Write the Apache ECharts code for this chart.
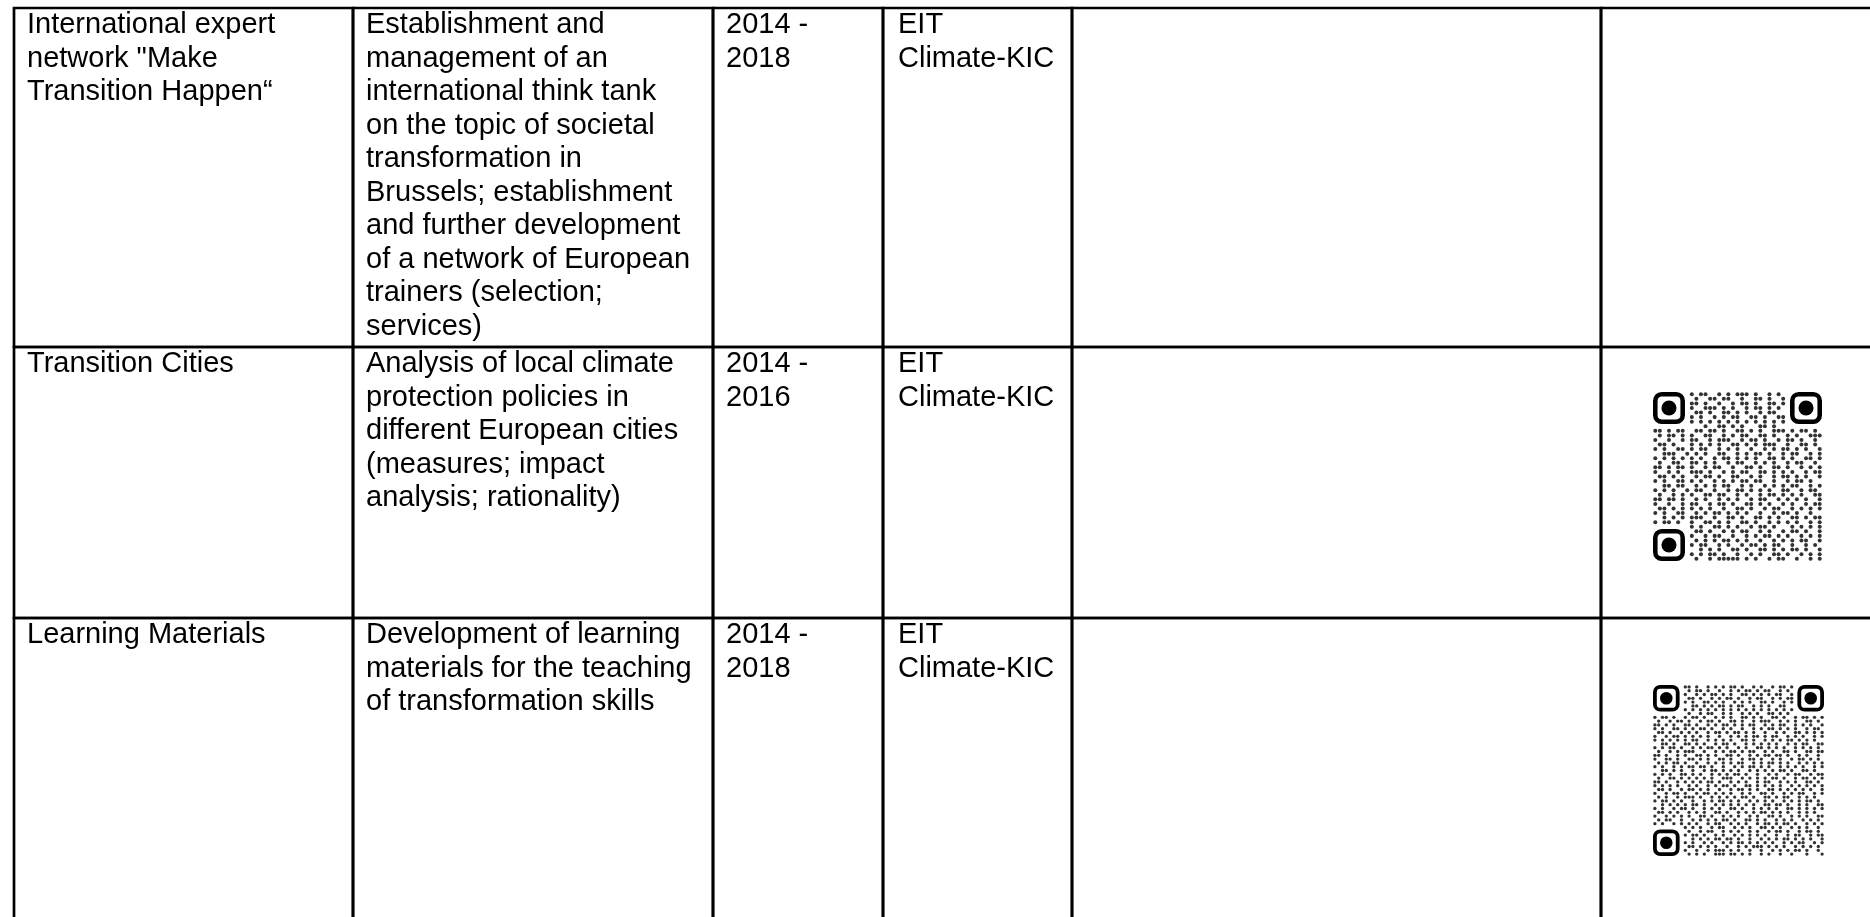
<!DOCTYPE html>
<html>
<head>
<meta charset="utf-8">
<script src="https://cdn.jsdelivr.net/npm/echarts@6/dist/echarts.min.js"></script>
<style>
html, body { margin: 0; padding: 0; background: #fff; }
#table { width: 1870px; height: 917px; }
</style>
</head>
<body>
<div id="table"></div>
<script>
// table content, one entry per row (line breaks as in the original)
const projects = [
  'International expert\nnetwork "Make\nTransition Happen\u201C',
  'Transition Cities',
  'Learning Materials'
];
const descriptions = [
  'Establishment and\nmanagement of an\ninternational think tank\non the topic of societal\ntransformation in\nBrussels; establishment\nand further development\nof a network of European\ntrainers (selection;\nservices)',
  'Analysis of local climate\nprotection policies in\ndifferent European cities\n(measures; impact\nanalysis; rationality)',
  'Development of learning\nmaterials for the teaching\nof transformation skills'
];
const periods = ['2014 -\n2018', '2014 -\n2016', '2014 -\n2018'];
const funders = ['EIT\nClimate-KIC', 'EIT\nClimate-KIC', 'EIT\nClimate-KIC'];
const notes = ['', '', ''];
const links = ['', '', ''];

// QR modules ('#' = dot), finder corners are drawn separately
const qrTransitionCities = [
  '........' + '#.##..#.#.###.#..#.#.' + '........',
  '........' + '.#..##.##..#..##.#..#' + '........',
  '........' + '##.#..#..#.##.#..##.#' + '........',
  '........' + '#..###.#.#..#.##.#.#.' + '........',
  '........' + '.##.#..##.#.#..#.##..' + '........',
  '........' + '#.#..#.#.##..##.#..##' + '........',
  '........' + '#.#.#.#.#.#.#.#.#.#.#' + '........',
  '........' + '...#..##.#.#...##.#..' + '........',
  '##.#.##..#' + '#.##.#..##' + '.#.#..###.' + '#.##.#.',
  '.#.##.#.#.' + '.##..#.#.#' + '#..##.#..#' + '.#..###',
  '#..#..#.##' + '..#.###..#' + '.##.#..#.#' + '#.#..#.',
  '.##.#...#.' + '#.#.#..##.' + '#.#.###..#' + '..##.#.',
  '#.#..##.#.' + '##..#.#.#.' + '.#..#.#.##' + '.#.#..#',
  '..###..#.#' + '.#..##..#.' + '#.##.#..#.' + '##..#.#',
  '#.#.#.#.#.' + '#..#.##.#.' + '#.#..##.#.' + '#..##.#',
  '.#..##..##' + '.#.#..#.##' + '..#.#.#..#' + '.##..#.',
  '##.#.##.#.' + '.#.##..#..' + '##.#..##.#' + '..#.#.#',
  '#..#.#..##' + '#.#..#.#.#' + '#..##.#.#.' + '#..#.##',
  '.##.#.#..#' + '.##.#..##.' + '.#.#..#.##' + '.#.#..#',
  '#.#..##.#.' + '#..#.#.#.#' + '#.##..#..#' + '.##.#..',
  '..##.##..#' + '.#.#.##..#' + '.#..#.#.#.' + '##..#.#',
  '#.#.#..#.#' + '#..#..#.##' + '.#.#.#..##' + '..#.##.',
  '.#..#.#.#.' + '.##.##..#.' + '#..#.##.#.' + '#.#..##',
  '##.##.#..#' + '.#..#.#.#.' + '.#.##..#.#' + '.#.#..#',
  '#..#..#.##' + '..#.##.#..' + '##.#.#..#.' + '#..#.##',
  '.##.#.#.#.' + '#.#..#..##' + '.#..#.##..' + '#.#.#.#',
  '#.#..##..#' + '.#.##.#.#.' + '#..#..#.##' + '.#..#..',
  '..#.#.#.##' + '#..#..##.#' + '..##.#.#..' + '##.#.##',
  '#.##.#..#.' + '.##.#.#..#' + '#.#..#.#.#' + '.#..#.#',
  '........' + '#.#..##.#.' + '#..#.##.#.' + '..#.#.#.#',
  '........' + '.##.#..#.#' + '.##..#.#..' + '#.##.#..#',
  '........' + '#..#.##..#' + '..#.#.##.#' + '.#..#.#.#',
  '........' + '.#.#.#.##.' + '#.#..#..#.' + '#.#.##..#',
  '........' + '#.##..#.#.' + '.#.##.#.##' + '..#..#.#.',
  '........' + '..#.#.#..#' + '#.#..##.#.' + '#.##.#..#',
  '........' + '#.#.##.#..' + '#..#.#..##' + '.#..#.#.#',
  '........' + '.#..#.####' + '#.#.#..#.#' + '#..#..#.#'
];
const qrLearningMaterials = [
  '........' + '##.#..#.#.' + '#.##.#..#.' + '#..#.##.#' + '........',
  '........' + '.#.##.#..#' + '..#.#.##.#' + '.##..#.#.' + '........',
  '........' + '#..#.#.##.' + '#.#..##.#.' + '#.#.##..#' + '........',
  '........' + '.##.#..#.#' + '.##.#..#.#' + '#..#.#.##' + '........',
  '........' + '#.#..##.#.' + '#..#.#.#..' + '##.#..#.#' + '........',
  '........' + '..##.#.#.#' + '#.#.##..#.' + '#.#..##..' + '........',
  '........' + '#.#.#.#.#.' + '#.#.#.#.#.' + '#.#.#.#.#' + '........',
  '........' + '.#..#.##..' + '#.#..#.#.#' + '..##.#.#.' + '........',
  '#.##.#..#.' + '##.#..#.#.' + '#..##.#.#.' + '.##.#..#.#' + '#.#.#',
  '.#..#.##.#' + '..#.##.#..' + '##.#..#.##' + '#..#.#.#..' + '##.#.',
  '##.#.#..##' + '.#..#.#.##' + '.#.#.##..#' + '.#.##..#.#' + '.#..#',
  '#.#..##.#.' + '#.##.#..#.' + '#..#..#.#.' + '##.#.#.#..' + '#.##.',
  '.##.#..#.#' + '.#..#.##.#' + '.##.#.#..#' + '..#.#..##.' + '#.#.#',
  '#..#.##.#.' + '#.#.#..#..' + '#.#.#.##.#' + '.##..#.#.#' + '..#.#',
  '#.#.#.#.#.' + '##..#.#.#.' + '#..##.#..#' + '.#.#.##.#.' + '#.#..',
  '..##.#..##' + '.#.#..#.##' + '.#..#.#.#.' + '#.#..#.#.#' + '#..##',
  '#.#.##.#..' + '#.#.##.#.#' + '..#.#..##.' + '#.#.#..#.#' + '.#.#.',
  '.#..#.#.##' + '#..#..#.#.' + '##.#.##..#' + '.#..##.#..' + '##.##',
  '##.#..#.#.' + '.##.#.#..#' + '#.#..#.#.#' + '#.##.#..#.' + '#..#.',
  '#..##.#..#' + '#.#.#..##.' + '#..#.##.#.' + '.#.#..#.##' + '.#.#.',
  '.#.#.##.#.' + '.#..#.#.#.' + '#.##..#.#.' + '##.#.#..#.' + '#.#.#',
  '#.#..#.#.#' + '#.##.#..#.' + '.#.#.##.#.' + '#..#.#.#.#' + '..#.#',
  '..##.#.#..' + '#..#.##.#.' + '#.#..#.#.#' + '.#.##.#..#' + '#.#..',
  '#.#.#..##.' + '#.#..#.#.#' + '.##.#..#..' + '#.#..#.##.' + '.#.##',
  '.#..##.#.#' + '.#.#.#..##' + '#..#.#.#.#' + '.##.#..#.#' + '#.#.#',
  '##.#..#.#.' + '#.#.##.#..' + '#.#.#..#.#' + '#..#.#.#..' + '##.#.',
  '#.#.#.#..#' + '.#..#.#.##' + '.#..##.#.#' + '.#.#..#.#.' + '#.#.#',
  '.##.#..#.#' + '#.#.#..#..' + '#.##.#.#..' + '##.#.#.#.#' + '.#..#',
  '#..#.##.#.' + '.#.##.#.#.' + '#..#.#..##' + '.#..#.#.##' + '..#.#',
  '.#.#..#.##' + '#.#..#.#.#' + '.#.##.#..#' + '#.#.##..#.' + '#.#..',
  '#.##.#.#..' + '#..#.#.##.' + '#.#..#.#.#' + '.#..#.#.#.' + '##.#.',
  '..#.#.#.#.' + '##.#..#.#.' + '#.#.#.#..#' + '#.##.#..#.' + '#..##',
  '#.#..#.##.' + '#..#.#.#..' + '##.#..#.#.' + '#.#..##.#.' + '#.#.#',
  '.##.#.#..#' + '.#.#..##.#' + '..#.#.#.##' + '.#.#.#..#.' + '#.#..',
  '#..#.#.#.#' + '..##.#..#.' + '#.#..#.#..' + '##.#..#.#.' + '#..##',
  '.#.##..#..' + '#.#.#.#.##' + '.#..##.#.#' + '..#.#.#..#' + '.#.#.',
  '#.#..#.#.#' + '.#..#.##..' + '#.#.#..#.#' + '#.#.##.#..' + '#.#.#',
  '........' + '#.#.#..#.#' + '#..#.#.#..' + '##.#.#..#.' + '#.#..#.',
  '........' + '.#..#.##..' + '#.#.#..#.#' + '..#.##.#..' + '#.##.#.',
  '........' + '#.##.#..#.' + '#..#.#.#.#' + '.#..#..#.#' + '#..#.##',
  '........' + '..#.#.#.##' + '.##.#..#..' + '#.#.#.##.#' + '.#.#..#',
  '........' + '#.#..#.#..' + '#.#.##.#.#' + '.#.#..#.#.' + '##..#.#',
  '........' + '.##.#.#.#.' + '.#..#.#.##' + '#.#.#.#..#' + '.#.#.#.',
  '........' + '#..#..#.##' + '#.#.#..#..' + '#..#.#.#.#' + '#.#..#.',
  '........' + '.#.#.#..##' + '#.##.#.#..' + '#.#..#..#.' + '..#...#'
];

// layout (pixels)
const colEdges = [14, 353, 713, 883, 1072, 1601, 1895];
const rowEdges = [8, 347, 618, 945];
const textPad = [13, 13, 13, 15, 13, 13];
const qrBoxes = [
  { codes: qrTransitionCities, left: 1653, top: 392, size: 169 },
  { codes: qrLearningMaterials, left: 1653, top: 685, size: 171 }
];

const columns = [projects, descriptions, periods, funders, notes, links];
const FONT = '"Liberation Sans", Arial, Helvetica, sans-serif';

const cellData = [];
for (let r = 0; r < projects.length; r++) {
  for (let c = 0; c < columns.length; c++) cellData.push([c, r]);
}

function renderCell(params, api) {
  const c = api.value(0), r = api.value(1);
  const p0 = api.coord([colEdges[c], rowEdges[r]]);
  const p1 = api.coord([colEdges[c + 1], rowEdges[r + 1]]);
  return {
    type: 'group',
    children: [
      {
        type: 'rect',
        shape: { x: p0[0], y: p0[1], width: p1[0] - p0[0], height: p1[1] - p0[1] },
        style: { fill: 'none', stroke: '#000', lineWidth: 2.7 }
      },
      {
        type: 'text',
        style: {
          text: columns[c][r],
          x: p0[0] + textPad[c],
          y: p0[1] + 0.5,
          fill: '#000',
          fontSize: 29,
          fontFamily: FONT,
          lineHeight: 33.5,
          verticalAlign: 'top'
        }
      }
    ]
  };
}

function inFinder(x, y, n) {
  return (x < 8 && y < 8) || (x >= n - 8 && y < 8) || (x < 8 && y >= n - 8);
}

const grids = [{ left: 0, top: 0, width: 1870, height: 917 }];
const xAxes = [{ type: 'value', min: 0, max: 1870, show: false, gridIndex: 0 }];
const yAxes = [{ type: 'value', min: 0, max: 917, inverse: true, show: false, gridIndex: 0 }];
const series = [{
  type: 'custom',
  xAxisIndex: 0,
  yAxisIndex: 0,
  data: cellData,
  renderItem: renderCell,
  clip: false,
  silent: true
}];

qrBoxes.forEach((box, i) => {
  const n = box.codes.length;
  const g = i + 1;
  const mod = box.size / n;
  grids.push({ left: box.left, top: box.top, width: box.size, height: box.size });
  xAxes.push({ type: 'value', min: -0.5, max: n - 0.5, show: false, gridIndex: g });
  yAxes.push({ type: 'value', min: -0.5, max: n - 0.5, inverse: true, show: false, gridIndex: g });
  const dots = [];
  box.codes.forEach((row, y) => {
    for (let x = 0; x < row.length; x++) {
      if (row[x] === '#' && !inFinder(x, y, n)) dots.push([x, y]);
    }
  });
  series.push({
    type: 'scatter',
    xAxisIndex: g,
    yAxisIndex: g,
    data: dots,
    symbol: 'circle',
    symbolSize: mod * 0.88,
    itemStyle: { color: '#000' },
    silent: true
  });
  series.push({
    type: 'custom',
    xAxisIndex: g,
    yAxisIndex: g,
    data: [[0, 0], [n - 7, 0], [0, n - 7]],
    silent: true,
    renderItem: function (params, api) {
      const a = api.coord([api.value(0) - 0.5, api.value(1) - 0.5]);
      const b = api.coord([api.value(0) + 6.5, api.value(1) + 6.5]);
      const s = b[0] - a[0];
      const m = s / 7;
      return {
        type: 'group',
        children: [
          {
            type: 'rect',
            shape: { x: a[0] + m / 2, y: a[1] + m / 2, width: s - m, height: s - m, r: m * 1.4 },
            style: { fill: 'none', stroke: '#000', lineWidth: m }
          },
          {
            type: 'circle',
            shape: { cx: a[0] + s / 2, cy: a[1] + s / 2, r: m * 1.65 },
            style: { fill: '#000' }
          }
        ]
      };
    }
  });
});

const chart = echarts.init(document.getElementById('table'), null, { renderer: 'canvas' });
chart.setOption({
  backgroundColor: '#fff',
  animation: false,
  grid: grids,
  xAxis: xAxes,
  yAxis: yAxes,
  series: series
});
</script>
</body>
</html>
